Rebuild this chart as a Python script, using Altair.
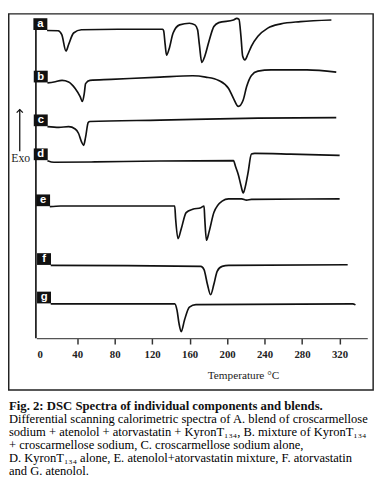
import altair as alt
import pandas as pd

# ---- DSC traces (temperature in °C, signal in arbitrary units) ----
a_T = [7.9, 19.7, 23.6, 28.1, 30.9, 36.2, 44.5, 83.2, 131.2, 132.3, 133.9, 135.4, 138.0, 142.4,
       149.3, 159.8, 165.7, 168.5, 170.4, 173.0, 176.2, 180.7, 185.9, 191.1, 206.8, 210.3, 212.7,
       214.8, 216.6, 219.0, 222.2, 226.0, 232.9, 243.4, 257.4, 278.3, 311.3]
a_s = [314.3, 314, 310, 293.3, 300, 311.7, 315, 315.5, 315.5, 314, 300, 289, 295, 311.7,
       320, 321.7, 320, 315, 300, 281.7, 288, 303.3, 318.3, 322.3, 325, 326.7, 325.7,
       308.3, 288.3, 284.3, 290, 298.3, 308.3, 316.7, 321, 323.3, 325]

b_T = [8.3, 15.3, 23.9, 30.9, 37.9, 43.2, 45.6, 47.6, 49.0, 53.6, 76.2, 128.4, 163.3, 177.2,
       191.1, 201.6, 206.8, 212.0, 217.2, 220.8, 226.0, 232.9, 246.9, 285.2, 316.5]
b_s = [260.7, 261.7, 263.3, 261.7, 255, 246.7, 241.7, 250, 260, 263.3, 264.3, 266.7, 268, 266.7,
       263.3, 255, 245, 236.7, 243.3, 256.7, 268.3, 272.7, 274, 274, 271.7]

c_T = [8.3, 20.5, 30.9, 37.9, 41.4, 44.8, 46.9, 49.0, 51.8, 53.6, 128.4, 232.9, 316.5]
c_s = [216, 215.3, 216, 213.7, 209.3, 200.3, 197, 205.3, 220.3, 221.3, 222.7, 224.7, 225.3]

d_T = [8.3, 15.3, 58.8, 128.4, 206.8, 209.1, 212.0, 214.8, 217.2, 219.5, 222.2, 226.0, 229.5,
       267.8, 320.1]
d_s = [181.3, 179.7, 180, 181, 181.3, 175, 167, 156, 148.3, 155, 168, 188, 188.7, 188, 186.7]

e_T = [10.8, 22.3, 144.1, 145.1, 147.6, 151.1, 156.3, 163.3, 172.0, 175.4, 176.2, 178.0, 180.7,
       185.9, 194.7, 201.6, 215.6, 220.8, 226.0, 320.1]
e_s = [134.3, 135, 135, 121.7, 101.7, 111.7, 128.3, 131.7, 133.3, 135, 121.7, 100, 108.3,
       128.3, 140, 142.3, 142.3, 141, 141.7, 142.3]

f_T = [11.8, 93.6, 172.0, 175.4, 179.0, 182.4, 185.9, 189.4, 194.7, 201.6, 328.7]
f_s = [74.3, 74, 73.3, 70, 55, 44.3, 55, 68.3, 73.3, 74.3, 75]

g_T = [11.8, 93.6, 144.1, 146.6, 148.7, 151.1, 154.5, 159.8, 166.8, 334.0, 337.0]
g_s = [35, 35, 35, 28.3, 15, 6.7, 18.3, 31.7, 34.3, 35, 34]

labels = ["a", "b", "c", "d", "e", "f", "g"]
x_ticks = [0, 40, 80, 120, 160, 200, 240, 280, 320]
x_title = "Temperature °C"
y_label = "Exo"
caption_title = "Fig. 2: DSC Spectra of individual components and blends."
caption_lines = [
    "Differential scanning calorimetric spectra of A. blend of croscarmellose",
    "sodium + atenolol + atorvastatin + KyronT₁₃₄, B. mixture of KyronT₁₃₄",
    "+ croscarmellose sodium, C. croscarmellose sodium alone,",
    "D. KyronT₁₃₄ alone, E. atenolol+atorvastatin mixture, F. atorvastatin",
    "and G. atenolol.",
]

series = [(a_T, a_s), (b_T, b_s), (c_T, c_s), (d_T, d_s), (e_T, e_s), (f_T, f_s), (g_T, g_s)]
rows = []
for lab, (T, S) in zip(labels, series):
    for t, s in zip(T, S):
        rows.append({"curve": lab, "T": t, "s": s})
df = pd.DataFrame(rows)
lab_df = pd.DataFrame([{"curve": lab, "T0": T[0], "s0": S[0]} for lab, (T, S) in zip(labels, series)])
one = pd.DataFrame({"k": [0]})

SERIF = "Liberation Serif"
xs = alt.Scale(domain=[-3.5, 349.6], nice=False, zero=False)
ys = alt.Scale(domain=[0, 330], nice=False, zero=False)

x_axis = alt.Axis(
    values=x_ticks, title=x_title, grid=False,
    domainColor="#555555", domainWidth=1.5,
    tickColor="#333333", tickWidth=1.5, tickSize=6,
    tickOpacity={"condition": {"test": "datum.value === 0", "value": 0}, "value": 1},
    labelFont=SERIF, labelFontWeight="bold", labelFontSize=11, labelColor="#222222",
    labelPadding=5, labelFlush=False,
    titleFont=SERIF, titleFontWeight="normal", titleFontSize=11.5, titleColor="#222222",
    titleX=211, titleY=38, titleAlign="center", titleBaseline="middle")

curves = alt.Chart(df).mark_line(interpolate="monotone", color="#111111", strokeWidth=1.7).encode(
    x=alt.X("T:Q", scale=xs, axis=x_axis, title=x_title),
    y=alt.Y("s:Q", scale=ys, axis=None),
    detail="curve:N",
)

boxes_base = alt.Chart(lab_df).transform_calculate(
    x0="datum.T0 - 14.6", x1="datum.T0 + 0.3",
    y0="datum.s0 + 0.5", y1="datum.s0 + 12.5",
    xm="datum.T0 - 7.1", ym="datum.s0 + 6.5",
)
boxes = boxes_base.mark_rect(color="#111111").encode(
    x=alt.X("x0:Q", scale=xs, title=x_title), x2="x1:Q",
    y=alt.Y("y0:Q", scale=ys, axis=None), y2="y1:Q",
)
box_text = boxes_base.mark_text(color="white", font="Liberation Sans", fontWeight="bold",
                                fontSize=11.5, align="center", baseline="middle").encode(
    x=alt.X("xm:Q", scale=xs, title=x_title),
    y=alt.Y("ym:Q", scale=ys, axis=None),
    text="curve:N",
)

yaxis_line = alt.Chart(one).mark_rule(color="#222222", strokeWidth=1.8).encode(
    x=alt.value(-0.5), y=alt.value(4), y2=alt.value(330))

frame = alt.Chart(one).mark_rect(fillOpacity=0, stroke="#222222", strokeWidth=1.5).encode(
    x=alt.value(-28.25), x2=alt.value(344), y=alt.value(-1.25), y2=alt.value(383))

arrow_line = alt.Chart(one).mark_rule(color="#111111", strokeWidth=1.3).encode(
    x=alt.value(-17), y=alt.value(96.5), y2=alt.value(139))
arrow_head = alt.Chart(one).mark_point(shape="M-1,1L0,0L1,1", filled=False, size=40,
                                       stroke="#111111", strokeWidth=1.3, opacity=1).encode(
    x=alt.value(-17), y=alt.value(96.5))
exo = alt.Chart(one).mark_text(text=y_label, font=SERIF, fontSize=12, color="#222222",
                               align="center", baseline="middle").encode(
    x=alt.value(-16), y=alt.value(146))

cap1 = alt.Chart(one).mark_text(font=SERIF, fontWeight="bold", fontSize=13, color="#111111",
                                align="left", baseline="alphabetic").encode(
    x=alt.value(-28), y=alt.value(403), text=alt.value(caption_title))
cap2 = alt.Chart(one).mark_text(font=SERIF, fontWeight="normal", fontSize=12.8, color="#000000",
                                align="left", baseline="alphabetic", lineHeight=13.3).encode(
    x=alt.value(-28), y=alt.value(416.8), text=alt.value(caption_lines))

chart = alt.layer(frame, yaxis_line, curves, boxes, box_text, arrow_line, arrow_head, exo, cap1, cap2).properties(
    width=338, height=330,
    autosize=alt.AutoSizeParams(type="none"),
    padding={"left": 29, "top": 2, "right": 13, "bottom": 156},
    background="white",
).configure_view(strokeOpacity=0)

chart.save("out.html", embed_options={"renderer": "svg", "actions": False})
